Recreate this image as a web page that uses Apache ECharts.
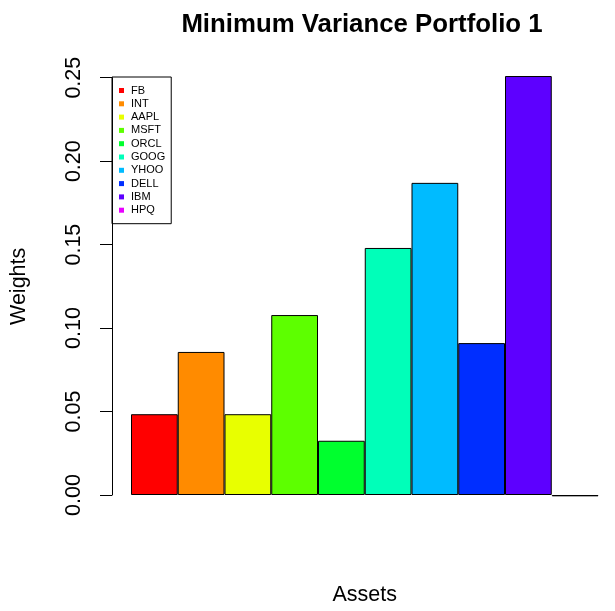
<!DOCTYPE html>
<html>
<head>
<meta charset="utf-8">
<script src="https://cdn.jsdelivr.net/npm/echarts@6/dist/echarts.min.js"></script>
<style>
  html, body { margin: 0; padding: 0; background: #fff; }
  #chart { width: 615px; height: 611px; }
</style>
</head>
<body>
<div id="chart"></div>
<script>
const assets = ['FB', 'INT', 'AAPL', 'MSFT', 'ORCL', 'GOOG', 'YHOO', 'DELL', 'IBM', 'HPQ']
const weights = [0.0484, 0.0857, 0.0484, 0.1078, 0.0325, 0.148, 0.187, 0.091, 0.251, -0.0008]
const colors = ['#FF0000', '#FF8B00', '#E8FF00', '#5DFF00', '#00FF2E', '#00FFB9', '#00BBFF', '#002EFF', '#5D00FF', '#E800FF']
const yTicks = [0, 0.05, 0.1, 0.15, 0.2, 0.25]

const font = 'Liberation Sans, Arial, Helvetica, sans-serif'

const series = assets.map((name, i) => ({
  name: name,
  type: 'bar',
  stack: 'all',
  clip: false,
  barCategoryGap: 0,
  itemStyle: {
    color: colors[i],
    borderColor: '#000',
    borderWidth: 1
  },
  data: weights.map((v, j) => (j === i ? v : '-'))
}))

const myChart = echarts.init(document.getElementById('chart'))
myChart.setOption({
  animation: false,
  backgroundColor: '#fff',
  textStyle: { fontFamily: font },
  graphic: [
    {
      type: 'text',
      x: 362,
      y: 25,
      style: {
        text: 'Minimum Variance Portfolio 1',
        fontFamily: font,
        fontSize: 25.8,
        fontWeight: 'bold',
        fill: '#000',
        align: 'center',
        verticalAlign: 'middle'
      }
    }
  ],
  legend: {
    orient: 'vertical',
    left: 112,
    top: 77,
    padding: [8, 6, 8, 7],
    borderColor: '#000',
    borderWidth: 1,
    borderRadius: 0,
    itemWidth: 5,
    itemHeight: 5,
    itemGap: 2.3,
    icon: 'rect',
    selectedMode: false,
    textStyle: { fontFamily: font, fontSize: 11, lineHeight: 11, color: '#000', padding: [0, 0, 0, 2] },
    data: assets.map((name, i) => ({ name: name, itemStyle: { color: colors[i], borderWidth: 0 } }))
  },
  grid: {
    left: 130.5,
    width: 468,
    top: 77.7,
    bottom: 115,
    containLabel: false
  },
  xAxis: {
    type: 'category',
    data: assets,
    boundaryGap: true,
    axisLine: { show: false },
    axisTick: { show: false },
    axisLabel: { show: false },
    splitLine: { show: false },
    name: 'Assets',
    nameLocation: 'middle',
    nameGap: 89,
    nameTextStyle: { fontFamily: font, fontSize: 21.5, color: '#000' }
  },
  yAxis: {
    type: 'value',
    min: 0,
    max: 0.25,
    interval: 0.05,
    offset: 19,
    axisLine: { show: true, lineStyle: { color: '#000', width: 1 } },
    axisTick: { show: true, inside: false, length: 12, lineStyle: { color: '#000' } },
    axisLabel: {
      rotate: 90,
      margin: 27,
      fontFamily: font,
      fontSize: 21.5,
      color: '#000',
      formatter: v => v.toFixed(2)
    },
    splitLine: { show: false },
    name: 'Weights',
    nameLocation: 'middle',
    nameRotate: 90,
    nameGap: 82,
    nameTextStyle: { fontFamily: font, fontSize: 21.5, color: '#000' }
  },
  series: series
})
</script>
</body>
</html>
